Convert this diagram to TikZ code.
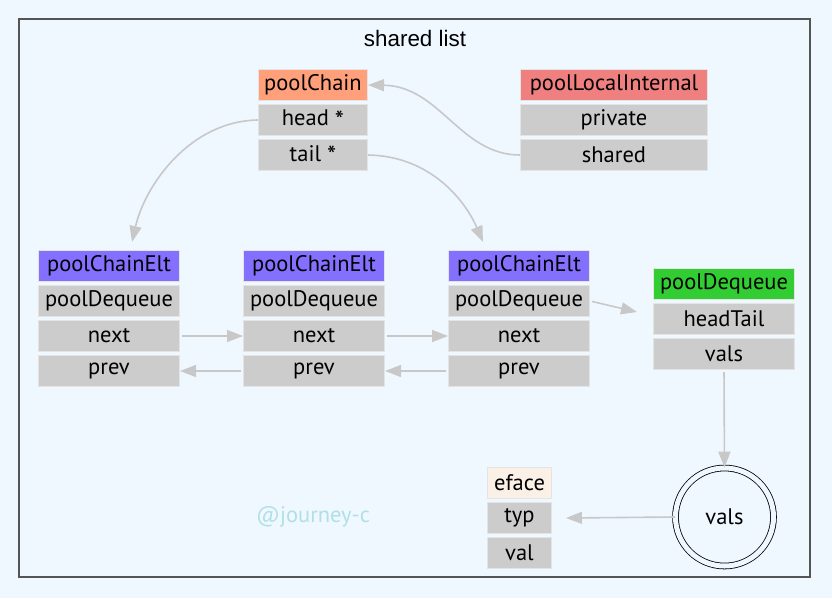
\documentclass[tikz,border=0pt]{standalone}
\usepackage{fontspec}
\setmainfont{PT Sans}
\newfontfamily\titlefont{Liberation Sans}
\usetikzlibrary{arrows.meta,calc}
\definecolor{bg}{HTML}{F0F8FF}
\definecolor{cellgray}{HTML}{CCCCCC}
\definecolor{cellline}{HTML}{E4E4E4}
\definecolor{edgegray}{HTML}{C8C8C8}
\definecolor{salmonhead}{HTML}{FFA07A}
\definecolor{coralhead}{HTML}{F08080}
\definecolor{slatehead}{HTML}{8470FF}
\definecolor{limehead}{HTML}{32CD32}
\definecolor{linenhead}{HTML}{FAF0E6}
\definecolor{framegray}{HTML}{555555}
\definecolor{powder}{HTML}{B0E0E6}
\newcommand{\ptrstar}{\raisebox{-0.35ex}{\fontsize{26}{26}\selectfont *}}
\begin{document}
\begin{tikzpicture}[x=1pt,y=-1pt,
  cell/.style={draw=cellline, line width=1pt, fill=cellgray, minimum height=31pt,
    inner sep=0pt, font=\fontsize{22.5}{24}\selectfont, text=black},
  w110/.style={minimum width=109pt},
  w188/.style={minimum width=187pt},
  w142/.style={minimum width=141pt},
  w65/.style={minimum width=64pt},
  conn/.style={draw=edgegray, line width=1.6pt, -{Triangle[length=16pt,width=12pt]}}
]
\useasboundingbox[fill=bg] (0,0) rectangle (832,598);
\draw[framegray, line width=1.2pt] (19,19) rectangle (810,577);
\node[font=\titlefont\fontsize{22.4}{24}\selectfont] (title) at (415,38) {shared list};

% poolChain
\node[cell,w110,fill=salmonhead] (pch) at (313,85) {poolChain};
\node[cell,w110] (pchead) at (313,120) {head \ptrstar};
\node[cell,w110] (pctail) at (313,155) {tail \ptrstar};

% poolLocalInternal
\node[cell,w188,fill=coralhead] (plh) at (614,85) {poolLocalInternal};
\node[cell,w188] (plpriv) at (614,120) {private};
\node[cell,w188] (plshared) at (614,155) {shared};

% poolChainElt 1
\node[cell,w142,fill=slatehead] (e1h) at (109,266) {poolChainElt};
\node[cell,w142] (e1d) at (109,301) {poolDequeue};
\node[cell,w142] (e1n) at (109,336) {next};
\node[cell,w142] (e1p) at (109,371) {prev};
% poolChainElt 2
\node[cell,w142,fill=slatehead] (e2h) at (314,266) {poolChainElt};
\node[cell,w142] (e2d) at (314,301) {poolDequeue};
\node[cell,w142] (e2n) at (314,336) {next};
\node[cell,w142] (e2p) at (314,371) {prev};
% poolChainElt 3
\node[cell,w142,fill=slatehead] (e3h) at (519,266) {poolChainElt};
\node[cell,w142] (e3d) at (519,301) {poolDequeue};
\node[cell,w142] (e3n) at (519,336) {next};
\node[cell,w142] (e3p) at (519,371) {prev};

% poolDequeue
\node[cell,w142,fill=limehead] (pdh) at (724,284) {poolDequeue};
\node[cell,w142] (pdht) at (724,319) {headTail};
\node[cell,w142] (pdv) at (724,354) {vals};

% eface
\node[cell,w65,fill=linenhead] (efh) at (519.5,483) {eface};
\node[cell,w65] (efty) at (519.5,518) {typ};
\node[cell,w65] (efval) at (519.5,553) {val};

% vals circle
\node[circle, draw=black, line width=0.8pt, double=bg, double distance=5pt,
      minimum size=98pt, inner sep=0pt, font=\fontsize{22.5}{24}\selectfont] (vc) at (724.5,517) {vals};

% watermark
\node[text=powder, font=\fontsize{22.5}{24}\selectfont] (wm) at (313,517) {@journey-c};

% connectors
\draw[conn] (plshared.west) .. controls (460,155) and (440,86) .. (pch.east);
\draw[conn] (pchead.west) .. controls (190,121) and (145,185) .. ($(e1h.north)+(23,-8)$);
\draw[conn] (pctail.east) .. controls (430,156) and (465,200) .. ($(e3h.north)+(-36,-8)$);
\draw[conn, shorten <=2pt] (e1n.east) -- (e2n.west);
\draw[conn, shorten <=2pt] (e2n.east) -- (e3n.west);
\draw[conn, shorten <=2pt] (e2p.west) -- (e1p.east);
\draw[conn, shorten <=2pt] (e3p.west) -- (e2p.east);
\draw[conn, shorten <=2pt] (e3d.east) -- ($(pdh.west)+(-16,28)$);
\draw[conn, shorten <=2pt] (pdv.south) -- (vc.north);
\draw[conn] (vc.west) -- ($(efty.east)+(14,0)$);
\end{tikzpicture}
\end{document}
